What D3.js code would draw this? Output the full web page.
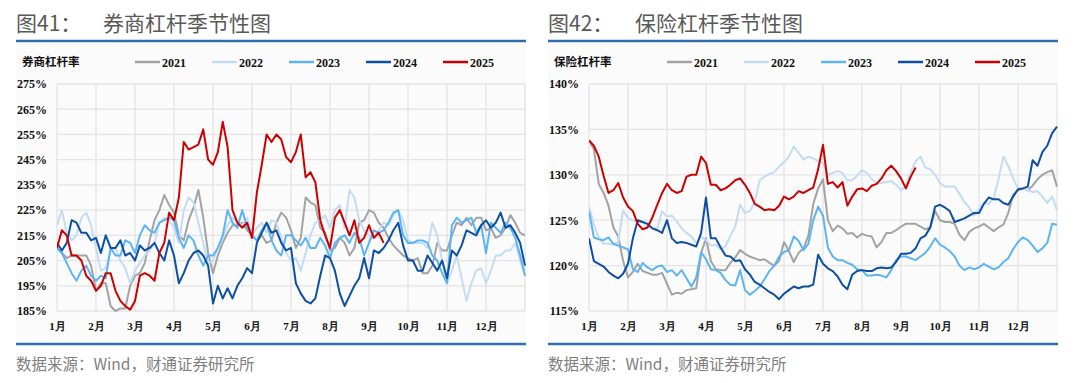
<!DOCTYPE html>
<html>
<head>
<meta charset="utf-8">
<script src="https://cdn.jsdelivr.net/npm/d3@7"></script>
<style>
body { margin: 0; background: #fff; }
.num { font-family: "Liberation Serif", "Times New Roman", serif; font-weight: bold; }
.cjk { font-family: "Noto Sans CJK SC", sans-serif; }
</style>
</head>
<body>
<script>
// ---- data (sampled every 1/8 month from Jan 1) ----
const months = ['1月','2月','3月','4月','5月','6月','7月','8月','9月','10月','11月','12月'];
const years = ['2021','2022','2023','2024','2025'];
const step = 1/8;

// 券商杠杆率 (%)
const brk2021 = [210,208,206,207,207,207,207,203,193,196, 196,187,185,186,186,195,199,200,204,213,
  221,225,231,227,224,215,213,221,226,233, 222,208,200,207,212,216,219,219,220,217,
  215,213,215,212,213,220,224,222,217,210, 214,230,228,227,218,216,209,210,214,212,
  207,210,220,221,225,224,220,218,214,211, 209,207,206,205,206,200,200,203,212,209,
  209,215,220,219,222,219,222,222,217,218, 214,215,218,223,220,216,215];
const brk2022 = [219,225,216,213,215,222,224,219,210,201, 202,209,210,205,202,196,201,204,207,209,
  212,220,222,221,218,212,225,230,228,220, 212,204,205,210,214,219,222,220,219,222,
  215,218,220,216,221,220,214,208,205,206, 201,208,215,220,221,223,218,225,227,218,
  233,230,221,217,215,214,217,220,219,223, 225,221,213,212,212,212,210,220,215,205,
  196,201,207,198,189,196,201,202,196,201, 207,207,209,209,212,205,199];
const brk2023 = [210,208,204,200,197,201,203,199,197,199, 198,210,207,207,213,212,208,215,219,217,
  216,220,221,222,221,214,210,215,213,207, 203,207,207,210,215,225,220,218,225,218,
  215,213,217,220,213,209,207,215,215,213, 211,214,210,210,214,211,206,212,214,215,
  212,216,214,207,212,217,216,217,220,224, 225,215,212,212,213,213,212,207,205,200,
  196,219,222,220,221,222,216,219,208,220, 218,216,220,218,214,207,199];
const brk2024 = [212,209,212,221,220,216,216,213,214,208, 215,210,210,213,207,208,205,211,209,210,
  212,208,205,213,207,196,200,205,208,209, 207,203,188,195,190,194,190,195,198,202,
  200,212,216,220,216,217,212,209,210,196, 192,189,188,190,199,207,206,201,192,187,
  191,195,198,206,198,209,208,210,213,217, 220,211,205,205,201,201,207,204,201,205,
  198,209,207,211,217,216,215,219,221,218, 220,224,218,219,216,212,203];
const brk2025 = [210,217,215,207,207,205,199,197,193,195, 200,200,193,189,187,185.5,189,199,200,199,
  197,208,212,224,221,230,252,249,250,251, 257,245,243,248,260,250,225,220,218,220,
  214,232,243,255,252,255,253,246,244,248, 255,238,240,236,221,215,210,222,225,220,
  215,221,212,214,219,214,216,212];

// 保险杠杆率 (%)
const ins2021 = [133.8,132.8,129.0,128.0,126.6,124.2,123.2,120.5,118.7,119.3, 120.2,119.4,119.2,119.0,119.0,119.2,118.0,116.8,117.0,116.9,
  117.3,117.4,117.5,121.4,123.0,120.5,119.6,119.5,119.5,120.3, 120.9,121.7,121.3,121.0,120.8,120.6,120.7,120.3,120.0,120.5,
  122.6,121.6,120.4,121.4,121.9,123.3,126.8,128.5,129.5,125.0, 123.8,124.4,124.1,123.5,123.6,123.1,123.5,123.3,123.2,122.0,
  122.6,123.6,123.6,123.9,124.3,124.6,124.6,124.6,124.3,124.0, 124.2,126.0,125.0,124.8,124.8,124.6,123.4,122.8,123.7,124.1,
  124.3,124.6,124.2,123.8,124.2,124.5,125.8,127.8,128.3,128.5, 128.3,128.8,129.5,130.0,130.3,130.5,128.7];
const ins2022 = [126.5,124.5,123.1,122.4,122.4,122.3,122.6,126.1,125.2,125.0, 124.8,124.8,124.4,124.1,124.1,126.0,125.4,125.5,124.9,124.1,
  123.6,123.2,122.5,123.2,122.8,122.2,122.3,121.8,122.1,123.3, 124.3,126.7,125.8,126.0,127.0,129.4,129.8,130.1,130.3,130.9,
  131.4,132.0,133.1,132.4,131.7,132.0,131.8,131.5,131.3,130.0, 130.2,130.4,130.2,129.4,129.4,129.9,130.5,130.2,129.5,129.1,
  129.1,129.2,129.3,128.9,128.3,128.8,130.3,131.5,132.0,130.8, 130.6,130.0,129.1,128.7,128.7,128.7,127.9,127.0,126.4,125.5,
  126.2,126.9,126.8,127.4,129.5,132.0,131.0,129.6,128.5,128.5, 128.3,128.1,128.2,127.6,126.9,127.6,126.1];
const ins2023 = [126.0,123.1,122.9,122.8,123.1,122.4,122.2,122.0,121.8,119.6, 119.3,120.3,119.8,119.5,119.9,120.0,119.3,119.5,118.9,119.5,
  118.6,117.7,118.7,121.5,120.7,119.6,119.5,119.2,118.4,117.9, 117.8,119.5,117.3,116.8,117.2,117.7,118.5,119.4,120.0,121.0,
  121.5,121.7,123.2,122.7,121.7,122.4,125.0,126.5,125.5,122.0, 121.0,120.6,120.6,120.3,120.1,119.6,119.5,118.9,118.9,119.0,
  118.9,118.7,119.5,120.6,121.0,121.0,120.8,120.6,121.0,121.4, 122.1,123.0,122.3,122.0,121.6,121.0,120.0,119.5,119.8,119.6,
  119.8,120.2,119.9,119.6,119.8,120.4,120.8,121.8,122.6,123.1, 122.8,122.2,121.5,121.9,122.5,124.6,124.5];
const ins2024 = [123.0,120.5,120.2,119.9,119.3,118.9,118.6,119.1,120.2,123.0, 125.0,124.8,124.6,124.1,123.9,123.6,125.0,123.0,122.5,122.6,
  122.5,122.3,122.1,123.6,127.5,123.0,123.0,122.0,121.1,121.0, 120.5,120.6,119.6,119.0,118.2,117.9,117.5,117.1,116.8,116.3,
  116.9,117.3,117.7,117.5,117.7,117.7,117.9,121.2,120.2,119.7, 119.4,118.8,117.9,117.4,119.0,119.4,119.5,119.4,119.4,119.7,
  119.8,119.7,119.8,120.4,121.3,121.3,121.4,121.9,123.0,123.3, 124.2,126.5,126.7,126.4,126.0,124.8,125.0,125.2,125.5,125.8,
  125.8,126.8,127.5,127.3,127.3,126.9,126.7,127.6,128.4,128.5, 128.7,131.6,131.0,132.5,133.2,134.6,135.3];
const ins2025 = [133.8,133.2,132.0,129.9,128.0,128.3,129.1,127.5,126.5,126.0, 124.6,124.0,124.2,125.3,126.7,128.0,129.0,128.3,128.0,128.2,
  129.8,130.0,130.0,132.0,131.3,128.9,128.9,128.3,128.5,128.9, 129.4,129.6,128.9,128.0,126.8,126.5,126.1,126.2,126.1,126.6,
  127.6,127.3,127.6,128.2,128.0,128.3,128.6,130.6,133.3,129.0, 129.2,128.6,129.2,126.6,127.6,128.4,128.5,128.2,128.8,129.0,
  129.6,130.5,131.0,130.4,129.6,128.5,129.8,130.8];

const brkTicks = [185,195,205,215,225,235,245,255,265,275];
const insTicks = [115,120,125,130,135,140];

const colors = ['#a3a3a3','#c3dcf6','#5cb5f2','#0d4fa3','#cc0000'];

const svg = d3.select('body').append('svg')
  .attr('width', 1080)
  .attr('height', 383);

svg.append('rect').attr('width', 1080).attr('height', 383).attr('fill', '#fff');

const plot = {left: 57, right: 525, top: 84, bottom: 311};

function drawPanel(dx, no, title, label, ticks, series, id) {
  const g = svg.append('g').attr('transform', `translate(${dx},0)`);

  g.append('rect')
    .attr('x', 16).attr('y', 44)
    .attr('width', 510).attr('height', 297)
    .attr('fill', '#fbfbfb');

  // title + rules
  g.append('text').attr('class', 'cjk')
    .attr('x', 16).attr('y', 31)
    .attr('font-size', 21).attr('fill', '#595959')
    .text('图' + no + '：');
  g.append('text').attr('class', 'cjk')
    .attr('x', 103).attr('y', 31)
    .attr('font-size', 21).attr('fill', '#595959')
    .text(title);
  g.append('line')
    .attr('x1', 16).attr('x2', 526).attr('y1', 41).attr('y2', 41)
    .attr('stroke', '#2e6db4').attr('stroke-width', 2.5);
  g.append('line')
    .attr('x1', 16).attr('x2', 526).attr('y1', 344).attr('y2', 344)
    .attr('stroke', '#2e6db4').attr('stroke-width', 2.5);
  g.append('text').attr('class', 'cjk')
    .attr('x', 16).attr('y', 370)
    .attr('font-size', 15.5).attr('fill', '#808080')
    .text('数据来源：Wind，财通证券研究所');

  // legend
  g.append('text').attr('class', 'cjk')
    .attr('x', 22).attr('y', 66)
    .attr('font-size', 11.5).attr('font-weight', 'bold').attr('fill', '#111')
    .text(label);
  const leg = g.selectAll('.leg')
    .data(years)
    .enter()
    .append('g')
    .attr('transform', (d, i) => `translate(${135 + i * 77},62)`);
  leg.append('line')
    .attr('x1', 0).attr('x2', 25)
    .attr('stroke', (d, i) => colors[i]).attr('stroke-width', 2.5);
  leg.append('text').attr('class', 'num')
    .attr('x', 27).attr('y', 4.5)
    .attr('font-size', 12).attr('fill', '#111')
    .text(d => d);

  const x = d3.scaleLinear().domain([0, 12]).range([plot.left, plot.right]);
  const y = d3.scaleLinear().domain([ticks[0], ticks[ticks.length - 1]]).range([plot.bottom, plot.top]);

  // grid
  g.append('g').selectAll('line')
    .data(ticks)
    .enter()
    .append('line')
    .attr('x1', plot.left).attr('x2', plot.right)
    .attr('y1', d => y(d)).attr('y2', d => y(d))
    .attr('stroke', '#e4e4e4').attr('stroke-width', 1.3);
  g.append('g').selectAll('line')
    .data(d3.range(13))
    .enter()
    .append('line')
    .attr('x1', d => x(d)).attr('x2', d => x(d))
    .attr('y1', plot.top).attr('y2', plot.bottom)
    .attr('stroke', '#e4e4e4').attr('stroke-width', 1.3);

  // axes
  const yAxis = g.append('g')
    .attr('transform', `translate(${plot.left},0)`)
    .call(d3.axisLeft(y).tickValues(ticks).tickFormat(d => d + '%').tickSize(0).tickPadding(10));
  yAxis.select('.domain').remove();
  yAxis.selectAll('text').attr('class', 'num').attr('font-size', 12).attr('fill', '#111');

  const xAxis = g.append('g')
    .attr('transform', `translate(0,${plot.bottom})`)
    .call(d3.axisBottom(x).tickValues(d3.range(12)).tickFormat(i => months[i]).tickSize(0).tickPadding(11));
  xAxis.select('.domain').remove();
  xAxis.selectAll('text').attr('class', 'num').attr('font-size', 11).attr('fill', '#111');

  // lines
  g.append('clipPath').attr('id', id)
    .append('rect')
    .attr('x', plot.left).attr('y', plot.top - 2)
    .attr('width', plot.right - plot.left + 1).attr('height', plot.bottom - plot.top + 3);

  const line = d3.line()
    .x((d, i) => x(i * step))
    .y(d => y(d));

  g.append('g').attr('clip-path', `url(#${id})`)
    .selectAll('path')
    .data(series)
    .enter()
    .append('path')
    .attr('d', d => line(d))
    .attr('fill', 'none')
    .attr('stroke', (d, i) => colors[i])
    .attr('stroke-width', 2)
    .attr('stroke-linejoin', 'round');
}

drawPanel(0, '41', '券商杠杆季节性图', '券商杠杆率', brkTicks,
  [brk2021, brk2022, brk2023, brk2024, brk2025], 'clipL');
drawPanel(532, '42', '保险杠杆季节性图', '保险杠杆率', insTicks,
  [ins2021, ins2022, ins2023, ins2024, ins2025], 'clipR');
</script>
</body>
</html>
